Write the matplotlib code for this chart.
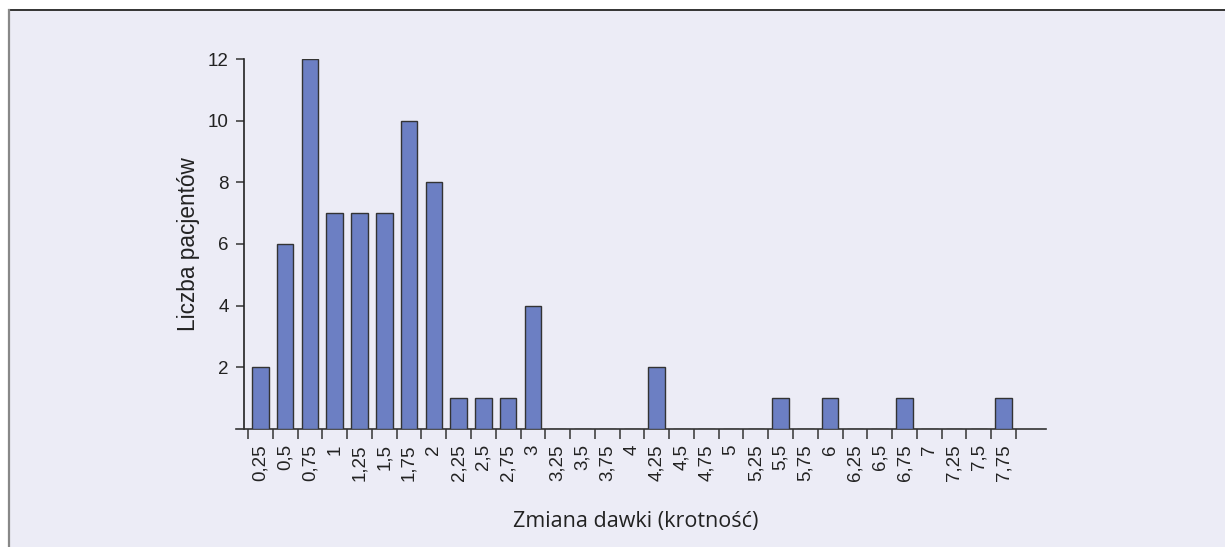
import numpy as np
import matplotlib
matplotlib.use('Agg')
import matplotlib.pyplot as plt
from matplotlib.patches import Rectangle
from matplotlib.lines import Line2D

# Data
dose_labels = ['0,25', '0,5', '0,75', '1', '1,25', '1,5', '1,75', '2',
               '2,25', '2,5', '2,75', '3', '3,25', '3,5', '3,75', '4',
               '4,25', '4,5', '4,75', '5', '5,25', '5,5', '5,75', '6',
               '6,25', '6,5', '6,75', '7', '7,25', '7,5', '7,75']
patients = [2, 6, 12, 7, 7, 7, 10, 8,
            1, 1, 1, 4, 0, 0, 0, 0,
            2, 0, 0, 0, 0, 1, 0, 1,
            0, 0, 1, 0, 0, 0, 1]
y_ticks = [2, 4, 6, 8, 10, 12]

bg = '#ECECF6'
bar_col = '#6C7FC3'
fam = ['Liberation Sans', 'DejaVu Sans']

W, H = 1225, 547
fig = plt.figure(figsize=(W / 100, H / 100), dpi=100, facecolor='white')

# lavender panel with a frame line on top and left
fig.patches.append(Rectangle((9 / W, 0), 1 - 9 / W, (H - 11) / H,
                             transform=fig.transFigure, facecolor=bg,
                             edgecolor='none', zorder=-5))
fig.lines.append(Line2D([8.5 / W, 1], [(H - 10) / H, (H - 10) / H],
                        transform=fig.transFigure, color='#333333', lw=1.4))
fig.lines.append(Line2D([8.5 / W, 8.5 / W], [0, (H - 10) / H],
                        transform=fig.transFigure, color='#888888', lw=1.6))

ax = fig.add_axes([236 / W, (H - 429) / H, (1046 - 236) / W, 370 / H])
ax.set_zorder(2)
ax.set_facecolor('none')

x = np.arange(len(dose_labels))
ax.bar(x, patients, width=0.67, color=bar_col, edgecolor='#333333',
       linewidth=1.0, zorder=3)

px = 24.77  # pixels per bin
ax.set_xlim(-0.5 - 12 / px, len(dose_labels) - 0.5 + 30 / px)
ax.set_ylim(0, 12)

for s in ['top', 'right']:
    ax.spines[s].set_visible(False)
ax.spines['left'].set_position(('data', -0.5 - 4 / px))
ax.spines['left'].set_bounds(0, 12)
ax.spines['left'].set_color('#222222')
ax.spines['bottom'].set_color('#333333')
ax.spines['left'].set_linewidth(1.2)
ax.spines['bottom'].set_linewidth(1.2)

# ticks on bin edges, labels on bar centres
ax.set_xticks(np.arange(len(dose_labels) + 1) - 0.5)
ax.set_xticklabels([])
ax.set_xticks(x, minor=True)
ax.set_xticklabels(dose_labels, minor=True, rotation=90, va='top',
                   fontsize=13.5, family=fam, color='#222222')
ax.tick_params(axis='x', which='major', length=7, width=1.1, color='#333333')
ax.tick_params(axis='x', which='minor', length=0, pad=11)

ax.set_yticks(y_ticks)
ax.set_yticklabels([str(v) for v in y_ticks], fontsize=13.5,
                   family=fam, color='#222222')
ax.tick_params(axis='y', length=6, width=1.1, color='#333333', pad=5)

ax.set_ylabel('Liczba pacjentów', fontsize=16.3, family=fam,
              color='#222222', labelpad=6)
fig.text(636 / W, 1 - 521 / H, 'Zmiana dawki (krotność)', ha='center',
         va='center', fontsize=15.5, family='Open Sans', color='#222222')

fig.savefig('out.png', dpi=100, facecolor='white')
